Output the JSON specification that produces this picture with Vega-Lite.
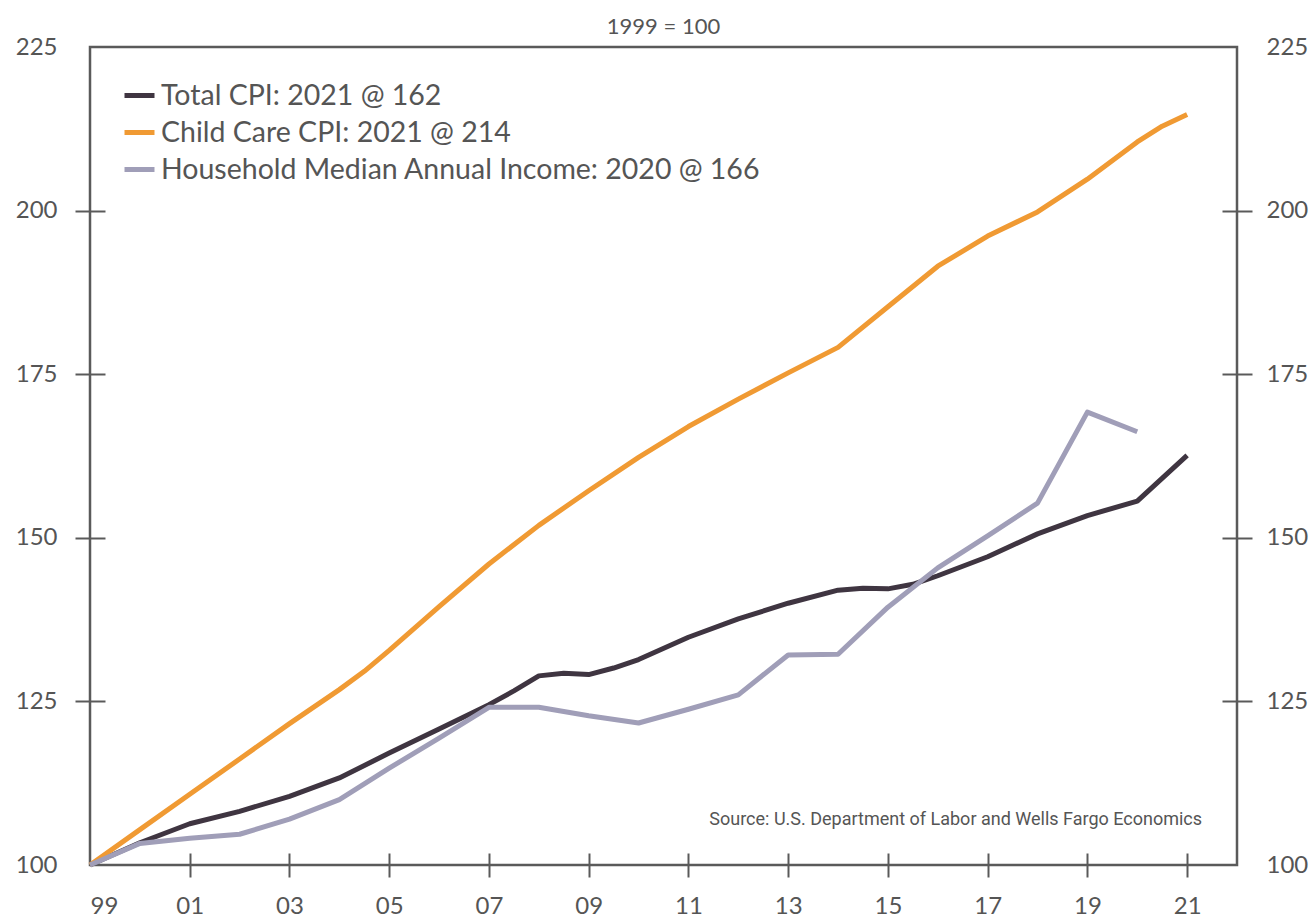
{
  "$schema": "https://vega.github.io/schema/vega-lite/v6.json",
  "autosize": "none",
  "width": 1147,
  "height": 818,
  "padding": {"left": 90, "top": 47, "right": 73, "bottom": 57},
  "background": "white",
  "title": {
    "text": "1999 = 100",
    "font": "Lato",
    "fontSize": 22,
    "fontWeight": "normal",
    "color": "#555555",
    "anchor": "middle",
    "offset": -4
  },
  "config": {
    "view": {"stroke": "#5a5a5a", "strokeWidth": 2.5},
    "axis": {
      "grid": false,
      "domain": false,
      "labelFont": "Lato",
      "labelFontSize": 24,
      "labelColor": "#555555",
      "tickColor": "#5a5a5a",
      "tickWidth": 2,
      "title": null
    }
  },
  "datasets": {
    "series": [
      {"year": 1999, "series": "Total CPI: 2021 @ 162", "value": 100},
      {"year": 2000, "series": "Total CPI: 2021 @ 162", "value": 103.4},
      {"year": 2001, "series": "Total CPI: 2021 @ 162", "value": 106.3},
      {"year": 2002, "series": "Total CPI: 2021 @ 162", "value": 108.2},
      {"year": 2003, "series": "Total CPI: 2021 @ 162", "value": 110.5},
      {"year": 2004, "series": "Total CPI: 2021 @ 162", "value": 113.3},
      {"year": 2005, "series": "Total CPI: 2021 @ 162", "value": 117.1},
      {"year": 2006, "series": "Total CPI: 2021 @ 162", "value": 120.8},
      {"year": 2007, "series": "Total CPI: 2021 @ 162", "value": 124.5},
      {"year": 2007.5, "series": "Total CPI: 2021 @ 162", "value": 126.6},
      {"year": 2008, "series": "Total CPI: 2021 @ 162", "value": 128.9},
      {"year": 2008.5, "series": "Total CPI: 2021 @ 162", "value": 129.3},
      {"year": 2009, "series": "Total CPI: 2021 @ 162", "value": 129.1},
      {"year": 2009.5, "series": "Total CPI: 2021 @ 162", "value": 130.1},
      {"year": 2010, "series": "Total CPI: 2021 @ 162", "value": 131.4},
      {"year": 2011, "series": "Total CPI: 2021 @ 162", "value": 134.8},
      {"year": 2012, "series": "Total CPI: 2021 @ 162", "value": 137.6},
      {"year": 2013, "series": "Total CPI: 2021 @ 162", "value": 140.0},
      {"year": 2014, "series": "Total CPI: 2021 @ 162", "value": 142.0},
      {"year": 2014.5, "series": "Total CPI: 2021 @ 162", "value": 142.3},
      {"year": 2015, "series": "Total CPI: 2021 @ 162", "value": 142.2},
      {"year": 2015.5, "series": "Total CPI: 2021 @ 162", "value": 142.9},
      {"year": 2016, "series": "Total CPI: 2021 @ 162", "value": 144.2},
      {"year": 2017, "series": "Total CPI: 2021 @ 162", "value": 147.1},
      {"year": 2018, "series": "Total CPI: 2021 @ 162", "value": 150.6},
      {"year": 2019, "series": "Total CPI: 2021 @ 162", "value": 153.4},
      {"year": 2020, "series": "Total CPI: 2021 @ 162", "value": 155.6},
      {"year": 2021, "series": "Total CPI: 2021 @ 162", "value": 162.6},

      {"year": 1999, "series": "Child Care CPI: 2021 @ 214", "value": 100},
      {"year": 2000, "series": "Child Care CPI: 2021 @ 214", "value": 105.4},
      {"year": 2001, "series": "Child Care CPI: 2021 @ 214", "value": 110.8},
      {"year": 2002, "series": "Child Care CPI: 2021 @ 214", "value": 116.2},
      {"year": 2003, "series": "Child Care CPI: 2021 @ 214", "value": 121.6},
      {"year": 2004, "series": "Child Care CPI: 2021 @ 214", "value": 126.8},
      {"year": 2004.5, "series": "Child Care CPI: 2021 @ 214", "value": 129.6},
      {"year": 2005, "series": "Child Care CPI: 2021 @ 214", "value": 132.8},
      {"year": 2006, "series": "Child Care CPI: 2021 @ 214", "value": 139.5},
      {"year": 2007, "series": "Child Care CPI: 2021 @ 214", "value": 146.0},
      {"year": 2008, "series": "Child Care CPI: 2021 @ 214", "value": 151.9},
      {"year": 2009, "series": "Child Care CPI: 2021 @ 214", "value": 157.2},
      {"year": 2010, "series": "Child Care CPI: 2021 @ 214", "value": 162.3},
      {"year": 2011, "series": "Child Care CPI: 2021 @ 214", "value": 167.0},
      {"year": 2012, "series": "Child Care CPI: 2021 @ 214", "value": 171.2},
      {"year": 2013, "series": "Child Care CPI: 2021 @ 214", "value": 175.2},
      {"year": 2014, "series": "Child Care CPI: 2021 @ 214", "value": 179.1},
      {"year": 2015, "series": "Child Care CPI: 2021 @ 214", "value": 185.3},
      {"year": 2016, "series": "Child Care CPI: 2021 @ 214", "value": 191.5},
      {"year": 2017, "series": "Child Care CPI: 2021 @ 214", "value": 196.1},
      {"year": 2018, "series": "Child Care CPI: 2021 @ 214", "value": 199.8},
      {"year": 2019, "series": "Child Care CPI: 2021 @ 214", "value": 204.8},
      {"year": 2020, "series": "Child Care CPI: 2021 @ 214", "value": 210.5},
      {"year": 2020.5, "series": "Child Care CPI: 2021 @ 214", "value": 212.9},
      {"year": 2021, "series": "Child Care CPI: 2021 @ 214", "value": 214.7},

      {"year": 1999, "series": "Household Median Annual Income: 2020 @ 166", "value": 100},
      {"year": 2000, "series": "Household Median Annual Income: 2020 @ 166", "value": 103.3},
      {"year": 2001, "series": "Household Median Annual Income: 2020 @ 166", "value": 104.1},
      {"year": 2002, "series": "Household Median Annual Income: 2020 @ 166", "value": 104.7},
      {"year": 2003, "series": "Household Median Annual Income: 2020 @ 166", "value": 107.0},
      {"year": 2004, "series": "Household Median Annual Income: 2020 @ 166", "value": 110.0},
      {"year": 2005, "series": "Household Median Annual Income: 2020 @ 166", "value": 114.8},
      {"year": 2006, "series": "Household Median Annual Income: 2020 @ 166", "value": 119.4},
      {"year": 2007, "series": "Household Median Annual Income: 2020 @ 166", "value": 124.1},
      {"year": 2008, "series": "Household Median Annual Income: 2020 @ 166", "value": 124.1},
      {"year": 2009, "series": "Household Median Annual Income: 2020 @ 166", "value": 122.8},
      {"year": 2010, "series": "Household Median Annual Income: 2020 @ 166", "value": 121.7},
      {"year": 2011, "series": "Household Median Annual Income: 2020 @ 166", "value": 123.8},
      {"year": 2012, "series": "Household Median Annual Income: 2020 @ 166", "value": 126.0},
      {"year": 2013, "series": "Household Median Annual Income: 2020 @ 166", "value": 132.1},
      {"year": 2014, "series": "Household Median Annual Income: 2020 @ 166", "value": 132.2},
      {"year": 2015, "series": "Household Median Annual Income: 2020 @ 166", "value": 139.4},
      {"year": 2016, "series": "Household Median Annual Income: 2020 @ 166", "value": 145.4},
      {"year": 2017, "series": "Household Median Annual Income: 2020 @ 166", "value": 150.3},
      {"year": 2018, "series": "Household Median Annual Income: 2020 @ 166", "value": 155.3},
      {"year": 2019, "series": "Household Median Annual Income: 2020 @ 166", "value": 169.2},
      {"year": 2020, "series": "Household Median Annual Income: 2020 @ 166", "value": 166.2}
    ],
    "notes": [
      {"note": "Source: U.S. Department of Labor and Wells Fargo Economics"}
    ]
  },
  "layer": [
    {
      "data": {"name": "series"},
      "mark": {"type": "line", "strokeWidth": 5, "strokeJoin": "round", "strokeCap": "butt"},
      "encoding": {
        "x": {
          "field": "year",
          "type": "quantitative",
          "scale": {"domain": [1999, 2022], "nice": false, "zero": false},
          "axis": {
            "orient": "bottom",
            "values": [1999, 2001, 2003, 2005, 2007, 2009, 2011, 2013, 2015, 2017, 2019, 2021],
            "format": "d",
            "labelExpr": "substring(datum.label, 2)",
            "offset": -12,
            "tickSize": 24,
            "labelPadding": 17,
            "tickOpacity": {"condition": {"test": "datum.value == 1999", "value": 0}, "value": 1}
          }
        },
        "y": {
          "field": "value",
          "type": "quantitative",
          "scale": {"domain": [100, 225], "nice": false, "zero": false},
          "axis": {
            "orient": "left",
            "values": [100, 125, 150, 175, 200, 225],
            "offset": -15,
            "tickSize": 30,
            "labelPadding": 18,
            "tickOpacity": {"condition": {"test": "datum.value == 100 || datum.value == 225", "value": 0}, "value": 1}
          }
        },
        "color": {
          "field": "series",
          "type": "nominal",
          "scale": {
            "domain": ["Total CPI: 2021 @ 162", "Child Care CPI: 2021 @ 214", "Household Median Annual Income: 2020 @ 166"],
            "range": ["#3f3541", "#f09a33", "#a09eb8"]
          },
          "legend": {
            "title": null,
            "orient": "none",
            "legendX": 32,
            "legendY": 31,
            "symbolType": "stroke",
            "symbolSize": 900,
            "symbolStrokeWidth": 5,
            "labelFont": "Lato",
            "labelFontSize": 28.5,
            "labelColor": "#555555",
            "labelOffset": 4,
            "rowPadding": 5,
            "padding": 0,
            "labelLimit": 800
          }
        }
      }
    },
    {
      "data": {"name": "series"},
      "mark": {"type": "line", "opacity": 0},
      "encoding": {
        "x": {"field": "year", "type": "quantitative"},
        "y": {
          "field": "value",
          "type": "quantitative",
          "axis": {
            "orient": "right",
            "values": [100, 125, 150, 175, 200, 225],
            "offset": -15,
            "tickSize": 30,
            "labelPadding": 14,
            "tickOpacity": {"condition": {"test": "datum.value == 100 || datum.value == 225", "value": 0}, "value": 1}
          }
        },
        "detail": {"field": "series", "type": "nominal"}
      }
    },
    {
      "data": {"name": "notes"},
      "mark": {"type": "text", "align": "right", "baseline": "middle", "font": "Roboto", "fontSize": 18, "color": "#555555"},
      "encoding": {
        "x": {"datum": 2021.3},
        "y": {"datum": 106.9, "axis": null},
        "text": {"field": "note"}
      }
    }
  ],
  "resolve": {"axis": {"y": "independent"}}
}
